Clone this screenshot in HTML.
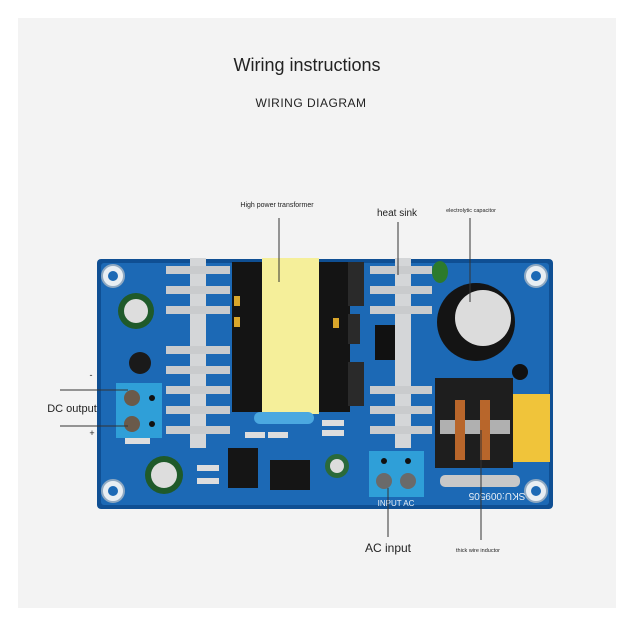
<!DOCTYPE html>
<html><head><style>
body{margin:0;background:#fff;}
svg{display:block}
text{font-family:"Liberation Sans",sans-serif;fill:#222}
</style></head><body>
<svg width="628" height="628" viewBox="0 0 628 628">
<rect x="0" y="0" width="628" height="628" fill="#fff"/>
<rect x="18" y="18" width="598" height="590" fill="#f3f3f3"/>
<text x="307" y="71" font-size="18" text-anchor="middle">Wiring instructions</text>
<text x="311" y="107" font-size="12" text-anchor="middle" letter-spacing="0.5">WIRING DIAGRAM</text>
<text x="277" y="207" font-size="7" text-anchor="middle">High power transformer</text>
<text x="397" y="216" font-size="10" text-anchor="middle">heat sink</text>
<text x="471" y="212" font-size="5.5" text-anchor="middle">electrolytic capacitor</text>
<!-- board -->
<rect x="97" y="259" width="456" height="250" rx="4" fill="#0f4f93"/>
<rect x="101" y="263" width="448" height="242" rx="3" fill="#1c69b5"/>
<g fill="#e8eef3" stroke="#8fa9c2" stroke-width="2">
<circle cx="113" cy="276" r="11"/><circle cx="536" cy="276" r="11"/>
<circle cx="113" cy="491" r="11"/><circle cx="536" cy="491" r="11"/></g>
<g fill="#1c69b5"><circle cx="113" cy="276" r="5"/><circle cx="536" cy="276" r="5"/><circle cx="113" cy="491" r="5"/><circle cx="536" cy="491" r="5"/></g>
<!-- transformer -->
<rect x="232" y="262" width="118" height="150" fill="#141414"/>
<rect x="234" y="296" width="6" height="10" fill="#d9a62b"/><rect x="234" y="317" width="6" height="10" fill="#d9a62b"/>
<rect x="333" y="318" width="6" height="10" fill="#d9a62b"/>
<rect x="262" y="258" width="57" height="156" fill="#f5ef9a"/>
<!-- heatsinks -->
<g fill="#d4d6d8">
<rect x="190" y="258" width="16" height="190"/>
<rect x="395" y="258" width="16" height="190"/>
</g>
<g fill="#c9cbcd">
<rect x="166" y="266" width="64" height="8"/><rect x="166" y="286" width="64" height="8"/><rect x="166" y="306" width="64" height="8"/>
<rect x="166" y="346" width="64" height="8"/><rect x="166" y="366" width="64" height="8"/><rect x="166" y="386" width="64" height="8"/><rect x="166" y="406" width="64" height="8"/><rect x="166" y="426" width="64" height="8"/>
<rect x="370" y="266" width="62" height="8"/><rect x="370" y="286" width="62" height="8"/><rect x="370" y="306" width="62" height="8"/>
<rect x="370" y="386" width="62" height="8"/><rect x="370" y="406" width="62" height="8"/><rect x="370" y="426" width="62" height="8"/>
</g>
<!-- resistors -->
<rect x="348" y="262" width="16" height="44" fill="#2a2a2a"/>
<rect x="348" y="314" width="12" height="30" fill="#2a2a2a"/>
<rect x="348" y="362" width="16" height="44" fill="#2a2a2a"/>
<rect x="375" y="325" width="20" height="35" fill="#111"/>
<!-- big cap -->
<ellipse cx="440" cy="272" rx="8" ry="11" fill="#2c7a2c"/>
<circle cx="476" cy="322" r="39" fill="#141414"/>
<circle cx="483" cy="318" r="28" fill="#dcdcdc"/>
<circle cx="520" cy="372" r="8" fill="#111"/>
<!-- inductor -->
<rect x="435" y="378" width="78" height="90" fill="#1e1e1e"/>
<rect x="440" y="420" width="70" height="14" fill="#b0b0b0"/>
<rect x="455" y="400" width="10" height="60" fill="#b8662b"/><rect x="480" y="400" width="10" height="60" fill="#b8662b"/>
<rect x="513" y="394" width="37" height="68" fill="#f0c43a"/>
<rect x="440" y="475" width="80" height="12" rx="5" fill="#c8c8c8"/>
<text x="497" y="501" font-size="10" fill="#fff" style="fill:#e8eef5" text-anchor="middle" transform="rotate(180 497 497)">SKU:009505</text>
<!-- blue cap VCY -->
<rect x="254" y="412" width="60" height="12" rx="6" fill="#4ba8e0"/>
<!-- small caps -->
<circle cx="136" cy="311" r="18" fill="#1f5a2a"/><circle cx="136" cy="311" r="12" fill="#ddd"/>
<circle cx="164" cy="475" r="19" fill="#1f5a2a"/><circle cx="164" cy="475" r="13" fill="#ddd"/>
<circle cx="337" cy="466" r="12" fill="#2a6a3a"/><circle cx="337" cy="466" r="7" fill="#ddd"/>
<circle cx="140" cy="363" r="11" fill="#1a1a1a"/>
<!-- ICs -->
<rect x="270" y="460" width="40" height="30" fill="#151515"/>
<rect x="228" y="448" width="30" height="40" fill="#151515"/>
<g fill="#ddd"><rect x="245" y="432" width="20" height="6"/><rect x="268" y="432" width="20" height="6"/><rect x="322" y="420" width="22" height="6"/><rect x="322" y="430" width="22" height="6"/><rect x="197" y="465" width="22" height="6"/><rect x="197" y="478" width="22" height="6"/><rect x="125" y="438" width="25" height="6"/></g>
<!-- terminals -->
<rect x="116" y="383" width="46" height="55" fill="#2f9fd8"/>
<circle cx="132" cy="398" r="8" fill="#6a5a4a"/><circle cx="132" cy="424" r="8" fill="#6a5a4a"/>
<circle cx="152" cy="398" r="3" fill="#111"/><circle cx="152" cy="424" r="3" fill="#111"/>
<rect x="369" y="451" width="55" height="46" fill="#2f9fd8"/>
<circle cx="384" cy="481" r="8" fill="#6a6a6a"/><circle cx="408" cy="481" r="8" fill="#6a6a6a"/>
<circle cx="384" cy="461" r="3" fill="#111"/><circle cx="408" cy="461" r="3" fill="#111"/>
<text x="396" y="506" font-size="8" style="fill:#e8eef5" text-anchor="middle">INPUT AC</text>
<!-- leader lines -->
<g stroke="#333" stroke-width="1">
<line x1="279" y1="218" x2="279" y2="282"/>
<line x1="398" y1="222" x2="398" y2="275"/>
<line x1="470" y1="218" x2="470" y2="302"/>
<line x1="388" y1="488" x2="388" y2="537"/>
<line x1="481" y1="430" x2="481" y2="540"/>
<line x1="60" y1="390" x2="128" y2="390"/>
<line x1="60" y1="426" x2="128" y2="426"/>
</g>
<text x="91" y="378" font-size="9" text-anchor="middle">-</text>
<text x="92" y="436" font-size="9" text-anchor="middle">+</text>
<text x="72" y="412" font-size="11" text-anchor="middle">DC output</text>
<text x="388" y="552" font-size="12" text-anchor="middle">AC input</text>
<text x="478" y="552" font-size="5.5" text-anchor="middle">thick wire inductor</text>
</svg>
</body></html>
